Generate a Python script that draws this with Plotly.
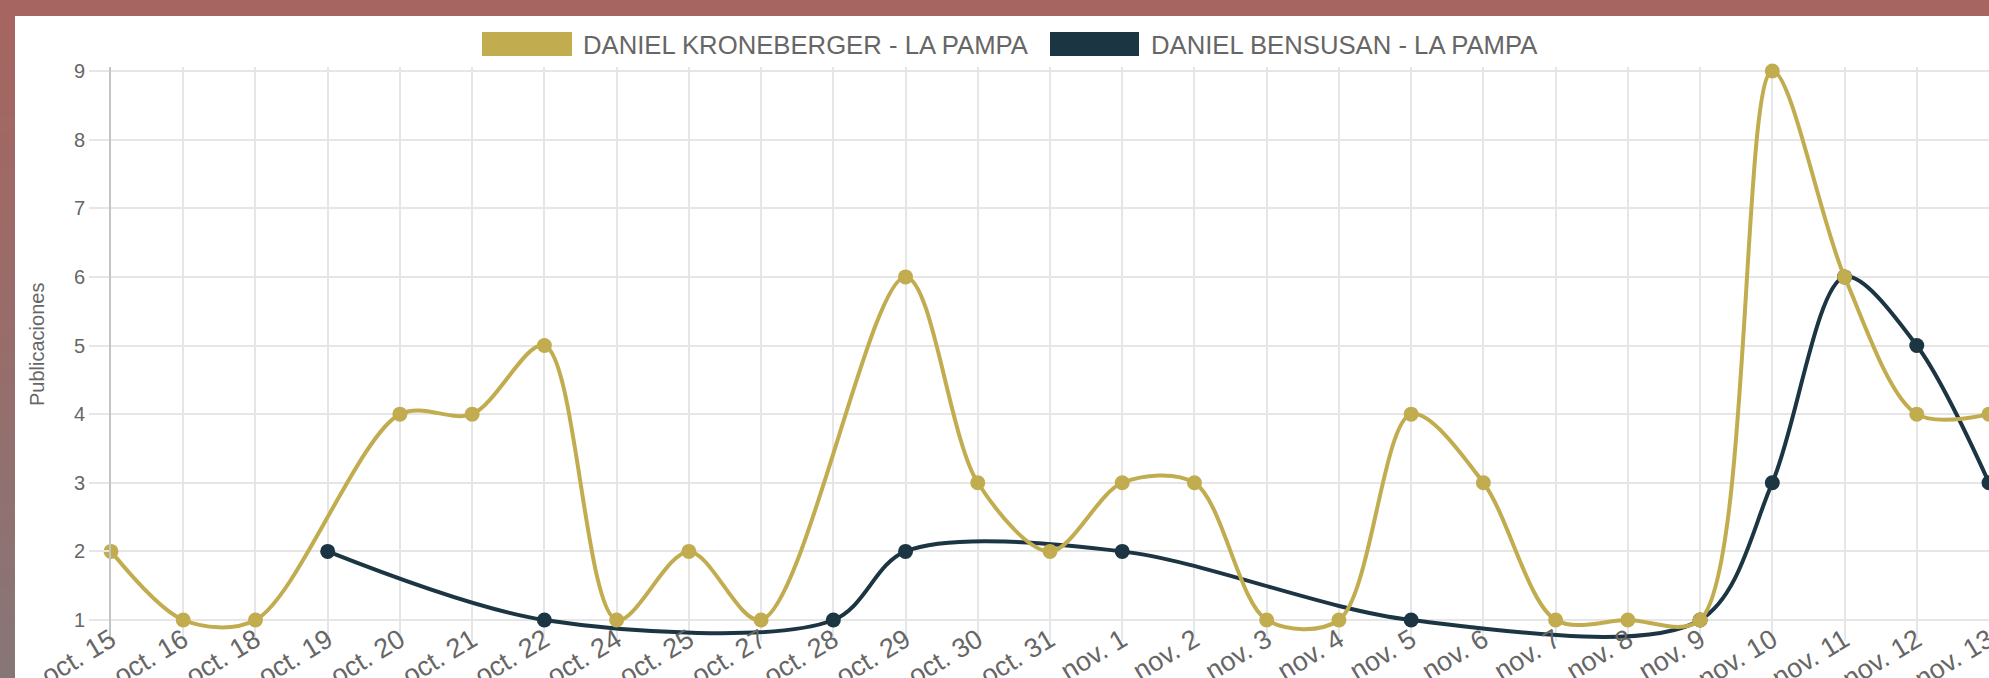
import plotly.graph_objects as go

# ---------------- data ----------------
categories = ["oct. 15", "oct. 16", "oct. 18", "oct. 19", "oct. 20", "oct. 21", "oct. 22",
              "oct. 24", "oct. 25", "oct. 27", "oct. 28", "oct. 29", "oct. 30", "oct. 31",
              "nov. 1", "nov. 2", "nov. 3", "nov. 4", "nov. 5", "nov. 6", "nov. 7",
              "nov. 8", "nov. 9", "nov. 10", "nov. 11", "nov. 12", "nov. 13"]
kroneberger = [2, 1, 1, None, 4, 4, 5, 1, 2, 1, None, 6, 3, 2, 3, 3, 1, 1, 4, 3, 1, 1, 1, 9, 6, 4, 4]
bensusan = [None, None, None, 2, None, None, 1, None, None, None, 1, 2, None, None, 2,
            None, None, None, 1, None, None, None, 1, 3, 6, 5, 3]
series_names = ["DANIEL KRONEBERGER - LA PAMPA", "DANIEL BENSUSAN - LA PAMPA"]
y_ticks = [1, 2, 3, 4, 5, 6, 7, 8, 9]
y_title = "Publicaciones"

# ---------------- style ----------------
GOLD = "#C1AD50"
DARK = "#1C3542"
TEXT = "#666666"
GRID = "#E6E6E6"
FONT = "Liberation Sans, Arial, Helvetica, sans-serif"
W, H = 1989, 678
ML, MR, MT, MB = 111, 0, 67, 37
PW, PH = W - ML - MR, H - MT - MB
PLOT_BOTTOM = H - MB


def px_x(x):
    return (x - ML) / PW


def px_y(y):
    return (PLOT_BOTTOM - y) / PH


# y=1 at pixel 620, y=9 at pixel 71
unit = (620 - 71) / 8.0
y_lo = 1 - (PLOT_BOTTOM - 620) / unit
y_hi = 9 + (71 - MT) / unit

fig = go.Figure()
for vals, col in ((bensusan, DARK), (kroneberger, GOLD)):
    fig.add_trace(go.Scatter(
        x=categories, y=vals, mode="lines+markers", connectgaps=True,
        line=dict(color=col, width=4, shape="spline", smoothing=0.9),
        marker=dict(color=col, size=15, line=dict(width=0)),
        cliponaxis=False, showlegend=False, hoverinfo="x+y",
    ))

shapes = []
# frame: top band and left band (with vertical colour drift)
shapes.append(dict(type="rect", xref="paper", yref="paper", layer="below",
                   x0=px_x(-20), x1=px_x(W + 50), y0=px_y(16), y1=px_y(-50),
                   fillcolor="rgb(166,101,96)", line=dict(width=0)))
n = 40
c0 = (166, 101, 96)
c1 = (135, 118, 119)
for i in range(n):
    t = i / (n - 1)
    c = tuple(round(c0[k] + (c1[k] - c0[k]) * t) for k in range(3))
    ya = 16 + (H + 10 - 16) * i / n
    yb = 16 + (H + 10 - 16) * (i + 1) / n
    shapes.append(dict(type="rect", xref="paper", yref="paper", layer="below",
                       x0=px_x(-20), x1=px_x(15), y0=px_y(yb + 0.5), y1=px_y(ya - 0.5),
                       fillcolor="rgb(%d,%d,%d)" % c, line=dict(width=0)))

# legend boxes (Chart.js style)
legend_boxes = [(482, 572, GOLD), (1050, 1139, DARK)]
annotations = []
for (xa, xb, col), name, tx in zip(legend_boxes, series_names, (581, 1149)):
    shapes.append(dict(type="rect", xref="paper", yref="paper",
                       x0=px_x(xa), x1=px_x(xb), y0=px_y(56), y1=px_y(32),
                       fillcolor=col, line=dict(width=0)))
    annotations.append(dict(text=name, xref="paper", yref="paper", x=px_x(tx), y=px_y(45),
                            xanchor="left", yanchor="middle", showarrow=False,
                            font=dict(family=FONT, size=25.7, color=TEXT)))

annotations.append(dict(text=y_title, xref="paper", yref="paper", x=px_x(37), y=px_y(345),
                        textangle=-90, xanchor="center", yanchor="middle", showarrow=False,
                        font=dict(family=FONT, size=20, color=TEXT)))

fig.update_layout(
    width=W, height=H, autosize=False,
    margin=dict(l=ML, r=MR, t=MT, b=MB, pad=0, autoexpand=False),
    paper_bgcolor="white", plot_bgcolor="rgba(0,0,0,0)",
    font=dict(family=FONT, color=TEXT),
    shapes=shapes, annotations=annotations, showlegend=False,
    xaxis=dict(type="category", categoryorder="array", categoryarray=categories,
               range=[0, len(categories) - 1], showgrid=True, gridcolor=GRID, gridwidth=1.5,
               showline=False, zeroline=False, ticks="", ticklabelstandoff=-23, automargin=False,
               tickangle=-31, tickfont=dict(family=FONT, size=27, color=TEXT)),
    yaxis=dict(range=[y_lo, y_hi], tickmode="array", tickvals=y_ticks, automargin=False,
               showgrid=True, gridcolor=GRID, gridwidth=1.5, zeroline=False,
               showline=True, linecolor="#C4C4C4", linewidth=2,
               ticks="outside", ticklen=20, tickwidth=1.5, tickcolor=GRID,
               tickfont=dict(family=FONT, size=20, color=TEXT)),
)

fig.write_html(
    "out.html",
    config={"displayModeBar": False},
    post_script="document.body.style.margin='0';document.documentElement.style.overflow='hidden';",
)
